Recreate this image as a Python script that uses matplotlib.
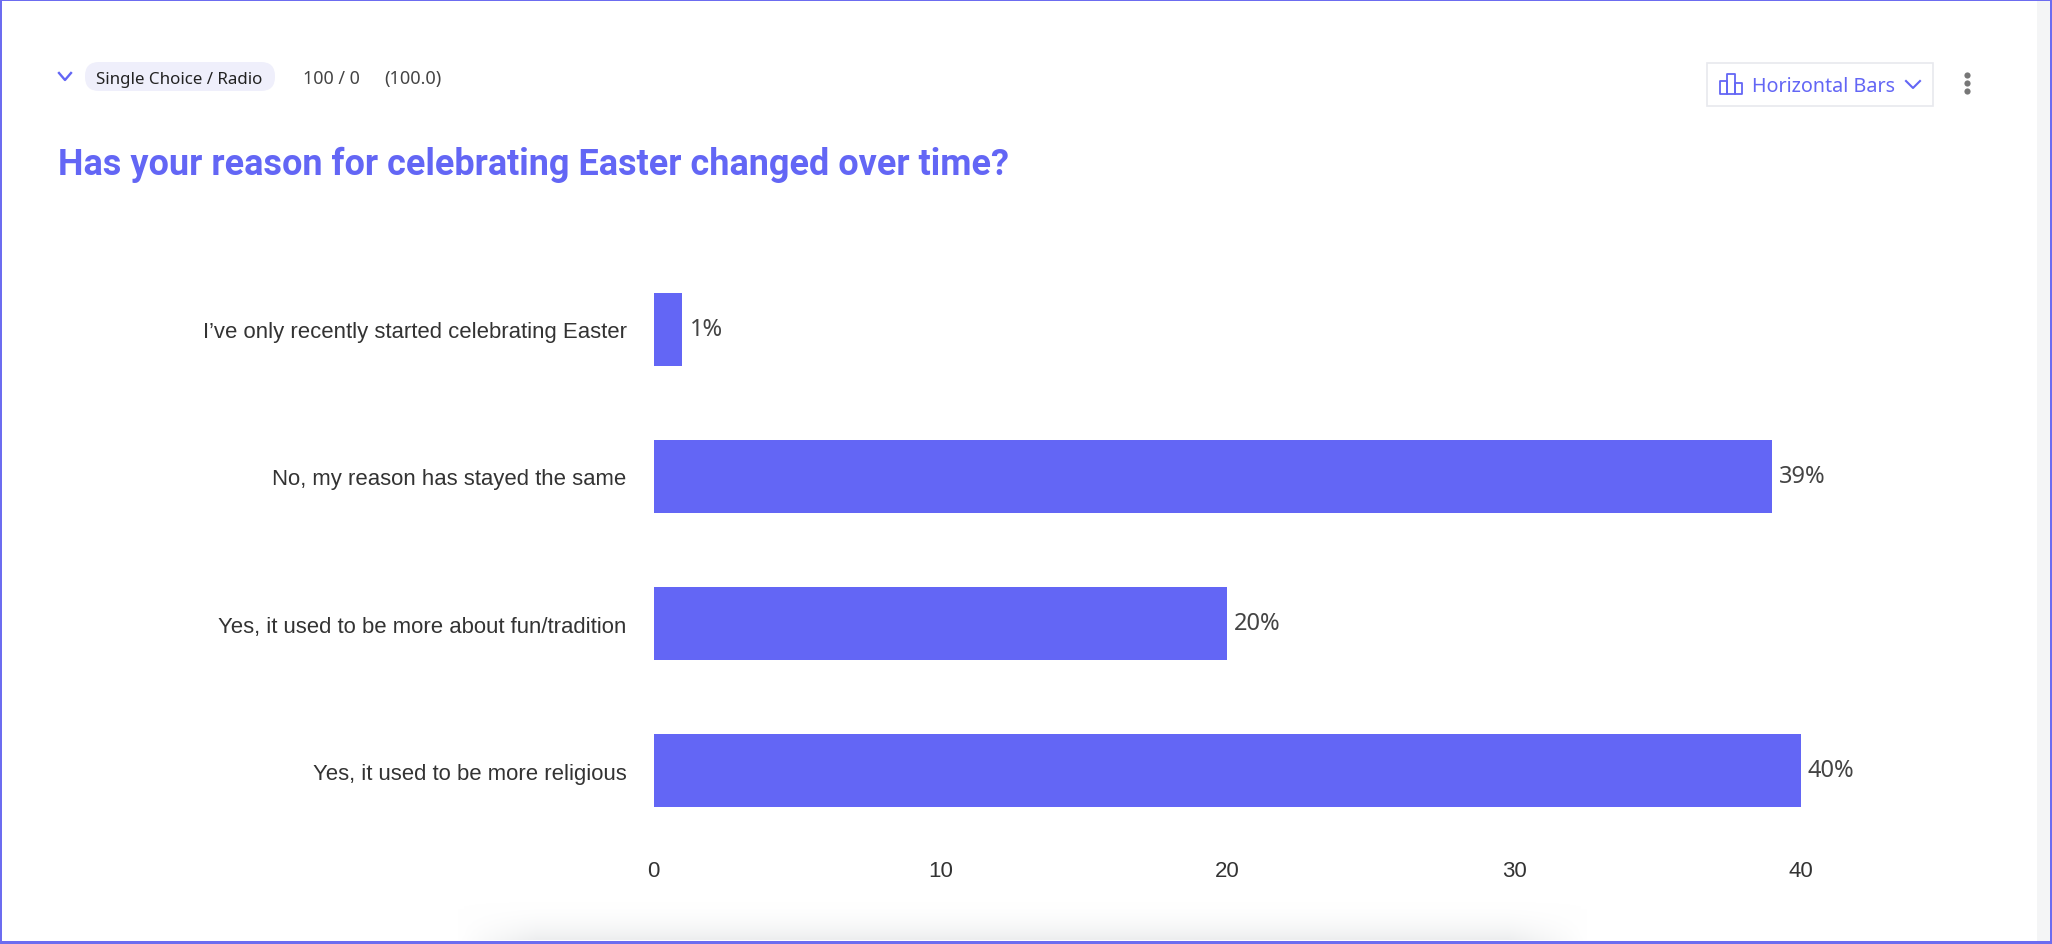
import numpy as np
import matplotlib
matplotlib.use("Agg")
import matplotlib.pyplot as plt
from matplotlib.patches import FancyBboxPatch, Rectangle
from matplotlib.colors import LinearSegmentedColormap

# Survey results
categories = [
    "I’ve only recently started celebrating Easter",
    "No, my reason has stayed the same",
    "Yes, it used to be more about fun/tradition",
    "Yes, it used to be more religious",
]
percentages = [1, 39, 20, 40]
x_ticks = [0, 10, 20, 30, 40]
title = "Has your reason for celebrating Easter changed over time?"

W, H = 2052, 945
ACCENT = "#6366F5"
EDGE = "#6C6CF0"
TEXT = "#333333"

fig = plt.figure(figsize=(W / 100, H / 100), dpi=100, facecolor="white")

# Page furniture lives on a full-figure axes measured in pixels
page = fig.add_axes([0, 0, 1, 1], zorder=0)
page.axis("off")

page.add_patch(Rectangle((2037, 0), 13, H, fc="#F4F5F6", ec="none"))

# Soft shadow rising from the bottom edge
shadow = np.linspace(0, 1, 40)[:, None] ** 2 * np.ones((40, 200))
edge_fade = np.clip(np.minimum(np.arange(200), np.arange(200)[::-1]) / 14, 0, 1)
shadow = shadow * edge_fade[None, :]
cmap = LinearSegmentedColormap.from_list("shade", ["#FFFFFF", "#EDEEEF"])
page.imshow(shadow, extent=(455, 1590, 941, 900), cmap=cmap, aspect="auto",
            vmin=0, vmax=1, zorder=1)
page.set_xlim(0, W)
page.set_ylim(H, 0)

# Frame
for r in [(0, 0, W, 2), (0, H - 3, W, 3), (0, 0, 2, H), (W - 2, 0, 2, H)]:
    page.add_patch(Rectangle(r[:2], r[2], r[3], fc=EDGE, ec="none", zorder=5))

# Collapse chevron
page.plot([59, 65, 71], [74, 81, 74], color=ACCENT, lw=1.7, zorder=3)

# Question-type pill
page.add_patch(FancyBboxPatch((85, 63), 190, 29, fc="#EFEFFB", ec="none", zorder=2,
                              boxstyle="round,pad=0,rounding_size=14"))
page.text(179, 79.5, "Single Choice / Radio", fontsize=12.2, family="Noto Sans",
          color="#222222", ha="center", va="center", zorder=3)
page.text(303, 79, "100 / 0", fontsize=12.9, family="Noto Sans", color="#444444",
          va="center", zorder=3)
page.text(384, 79, "(100.0)", fontsize=13.1, family="Noto Sans", color="#444444",
          va="center", zorder=3)

page.text(58, 165, title, fontsize=25.9, family="Roboto", fontweight="bold",
          color=ACCENT, va="center", zorder=3)

# Chart-type dropdown
page.add_patch(Rectangle((1707, 64), 226, 43, fc="white", ec="#E8E9EE", lw=1.2, zorder=2))
for x, y, w, h in [(1720, 82, 7, 13), (1727, 75, 8, 20), (1735, 84, 7, 11)]:
    page.add_patch(Rectangle((x, y), w, h, fc="none", ec=ACCENT, lw=1.3, zorder=3,
                             joinstyle="round"))
page.text(1752, 87, "Horizontal Bars", fontsize=14.2, family="Noto Sans",
          color=ACCENT, va="center", zorder=3)
page.plot([1906, 1913, 1920], [82, 89, 82], color=ACCENT, lw=1.5, zorder=3)

# Overflow menu dots
page.scatter([1967] * 3, [76, 84, 92], s=20, color="#777777", zorder=3, linewidths=0)

# Bar chart, placed so that its data range spans the plotting area exactly
left, right, top, bottom = 653.8, 1801.0, 256.6, 845.4
ax = fig.add_axes([left / W, 1 - bottom / H, (right - left) / W, (bottom - top) / H], zorder=2)
ax.patch.set_alpha(0)
positions = np.arange(len(categories))
ax.barh(positions, percentages, height=0.495, color=ACCENT)
ax.set_xlim(0, 40)
ax.set_ylim(len(categories) - 0.5, -0.5)
for s in ax.spines.values():
    s.set_visible(False)
ax.set_xticks(x_ticks)
ax.set_yticks(positions, categories)
ax.tick_params(axis="x", length=0, pad=11, labelsize=16, labelcolor=TEXT)
ax.tick_params(axis="y", length=0, pad=19.5, labelsize=15.9, labelcolor=TEXT)
for lab in ax.get_xticklabels() + ax.get_yticklabels():
    lab.set_family("Liberation Sans")

for pos, val in zip(positions, percentages):
    ax.annotate(f"{val}%", (val, pos), xytext=(5, 0.4), textcoords="offset points",
                ha="left", va="center", fontsize=17, color="#444444", family="Noto Sans")

fig.savefig("out.png", dpi=100)
